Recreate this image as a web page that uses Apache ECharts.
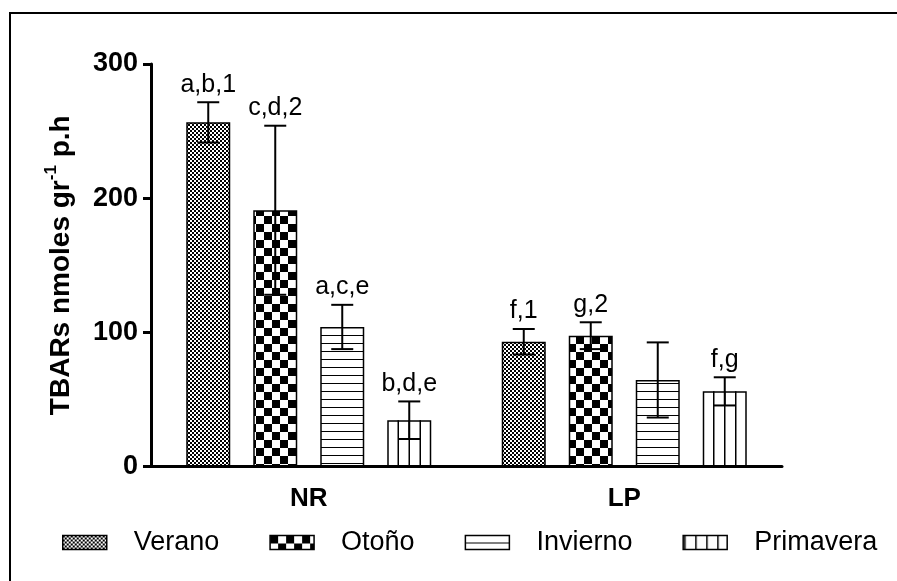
<!DOCTYPE html>
<html>
<head>
<meta charset="utf-8">
<script src="https://cdn.jsdelivr.net/npm/echarts@6/dist/echarts.min.js"></script>
<style>
  html, body { margin: 0; padding: 0; background: #fff; }
  #chart { width: 897px; height: 581px; }
</style>
</head>
<body>
<div id="chart"></div>
<script>
// Sites and seasons
const categories = ['NR', 'LP'];
const seasons = ['Verano', 'Otoño', 'Invierno', 'Primavera'];

// Mean TBARs per season (NR, LP)
const verano = [256.5, 93];
const otono = [191, 97.5];
const invierno = [104, 64.5];
const primavera = [34.5, 56];

// Error (± half-range) per season (NR, LP)
const veranoErr = [15, 9.5];
const otonoErr = [63, 10];
const inviernoErr = [16.5, 28];
const primaveraErr = [14, 10.5];

// Significance letters above each bar
const veranoTags = ['a,b,1', 'f,1'];
const otonoTags = ['c,d,2', 'g,2'];
const inviernoTags = ['a,c,e', ''];
const primaveraTags = ['b,d,e', 'f,g'];

// Y axis ticks
const yTicks = [0, 100, 200, 300];

const seriesValues = [verano, otono, invierno, primavera];
const seriesErr = [veranoErr, otonoErr, inviernoErr, primaveraErr];
const seriesTags = [veranoTags, otonoTags, inviernoTags, primaveraTags];

const BAR_W = 44;
const BAR_GAP = 23;
const PITCH = BAR_W + BAR_GAP;
const FONT = '"Liberation Sans", Arial, sans-serif';

// ---- fill patterns ----
function makeTile(w, h, draw) {
  const c = document.createElement('canvas');
  c.width = w; c.height = h;
  const g = c.getContext('2d');
  g.fillStyle = '#fff';
  g.fillRect(0, 0, w, h);
  g.fillStyle = '#000';
  draw(g);
  return { image: c, repeat: 'repeat' };
}
const fineCheck = makeTile(4, 4, g => { g.fillRect(0, 0, 2, 2); g.fillRect(2, 2, 2, 2); });
const bigCheck = makeTile(16, 16, g => { g.fillRect(0, 0, 8, 8); g.fillRect(8, 8, 8, 8); });
const hLines = makeTile(8, 8, g => { g.fillRect(0, 7, 8, 1.5); });
const vLinesLegend = makeTile(11, 11, g => { g.fillRect(1, 0, 1.5, 11); });
const fills = [fineCheck, bigCheck, hLines, '#fff'];

const chart = echarts.init(document.getElementById('chart'));

const barSeries = seasons.map((name, i) => ({
  name: name,
  type: 'bar',
  data: seriesValues[i],
  barWidth: BAR_W,
  barGap: (BAR_GAP / BAR_W * 100) + '%',
  itemStyle: { color: fills[i], borderColor: '#000', borderWidth: 1.5 },
  emphasis: { disabled: true },
  z: 2
}));

// error bars, tags and the column dividers of the Primavera bars
const errData = [];
seasons.forEach((s, si) => {
  categories.forEach((c, ci) => {
    errData.push([ci, si, seriesValues[si][ci], seriesErr[si][ci], seriesTags[si][ci]]);
  });
});

const errSeries = {
  type: 'custom',
  name: 'err',
  data: errData,
  z: 5,
  silent: true,
  renderItem: function (params, api) {
    const ci = api.value(0), si = api.value(1);
    const mean = api.value(2), err = api.value(3);
    const tag = errData[params.dataIndex][4];
    const base = api.coord([ci, mean]);
    const x = base[0] + (si - 1.5) * PITCH;
    const yTop = api.coord([ci, mean + err])[1];
    const yBot = api.coord([ci, mean - err])[1];
    const y0 = api.coord([ci, 0])[1];
    const half = BAR_W / 4;
    const ls = { stroke: '#000', lineWidth: 2 };
    const children = [
      { type: 'line', shape: { x1: x, y1: yTop, x2: x, y2: yBot }, style: ls },
      { type: 'line', shape: { x1: x - half, y1: yTop, x2: x + half, y2: yTop }, style: ls },
      { type: 'line', shape: { x1: x - half, y1: yBot, x2: x + half, y2: yBot }, style: ls }
    ];
    if (si === 3) {
      [-1, 0, 1].forEach(k => {
        const lx = x + k * BAR_W / 4;
        children.push({ type: 'line', shape: { x1: lx, y1: base[1], x2: lx, y2: y0 }, style: { stroke: '#000', lineWidth: 1.5 } });
      });
    }
    if (tag) {
      children.push({
        type: 'text',
        style: {
          text: tag, x: x, y: yTop - 5,
          align: 'center', verticalAlign: 'bottom',
          fill: '#000', font: '25px ' + FONT
        }
      });
    }
    return { type: 'group', children: children };
  }
};

chart.setOption({
  animation: false,
  backgroundColor: '#fff',
  textStyle: { fontFamily: FONT, color: '#000' },
  graphic: [{
    type: 'rect',
    shape: { x: 10, y: 13, width: 900, height: 600 },
    style: { fill: 'none', stroke: '#000', lineWidth: 2 },
    silent: true
  }],
  grid: { left: 151, right: 115, top: 64, bottom: 114.5, containLabel: false },
  legend: {
    data: seasons.map((s, i) => ({
      name: s,
      itemStyle: i === 3 ? { color: vLinesLegend } : undefined
    })),
    left: 62,
    top: 529,
    padding: 0,
    icon: 'rect',
    itemWidth: 44,
    itemHeight: 14,
    itemGap: 50,
    itemStyle: { borderColor: '#000', borderWidth: 1.5 },
    textStyle: { fontSize: 27, color: '#000', padding: [0, 0, 0, 22] },
    selectedMode: false
  },
  xAxis: {
    type: 'category',
    data: categories,
    axisLine: { lineStyle: { color: '#000', width: 3 } },
    axisTick: { alignWithLabel: true, length: 8, lineStyle: { color: '#000', width: 3 } },
    axisLabel: { fontSize: 26, fontWeight: 'bold', color: '#000', margin: 19 }
  },
  yAxis: {
    type: 'value',
    min: yTicks[0],
    max: yTicks[yTicks.length - 1],
    interval: yTicks[1] - yTicks[0],
    splitLine: { show: false },
    axisLine: { show: true, lineStyle: { color: '#000', width: 3 } },
    axisTick: { show: true, length: 8, lineStyle: { color: '#000', width: 3 } },
    axisLabel: { fontSize: 27, fontWeight: 'bold', color: '#000', margin: 13 },
    name: '{t|TBARs nmoles gr}{s|-1}{t| p.h}',
    nameLocation: 'middle',
    nameGap: 76,
    nameRotate: 90,
    nameTextStyle: {
      rich: {
        t: { fontSize: 28, fontWeight: 'bold', color: '#000', verticalAlign: 'bottom', lineHeight: 32 },
        s: { fontSize: 17, fontWeight: 'bold', color: '#000', verticalAlign: 'top', lineHeight: 32, padding: [0, 0, 10, 0] }
      }
    }
  },
  series: barSeries.concat([errSeries])
});
</script>
</body>
</html>
